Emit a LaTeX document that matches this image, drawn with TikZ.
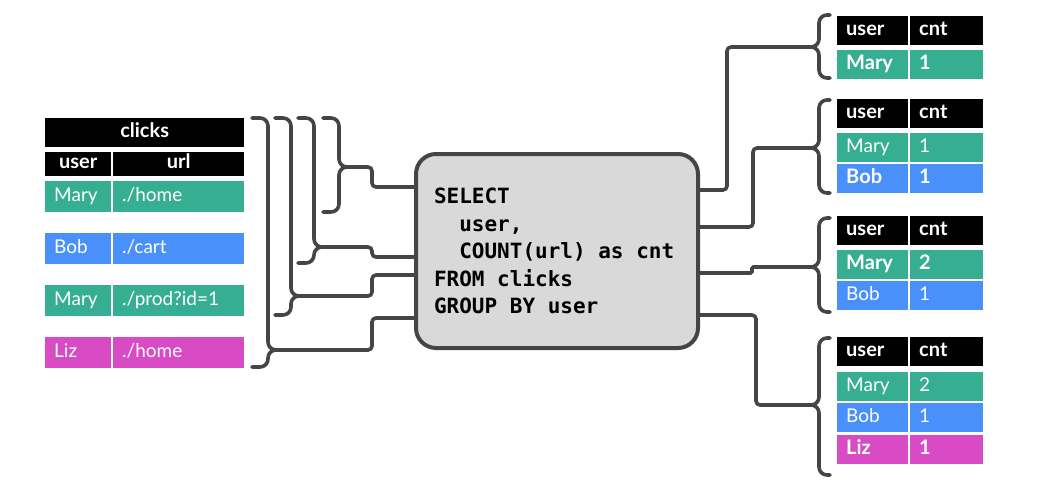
\documentclass[tikz,border=0pt]{standalone}
\usepackage{fontspec}
\setmainfont{Lato}
\setmonofont{DejaVu Sans Mono}
\usetikzlibrary{calc}

\definecolor{grn}{HTML}{36AE91}
\definecolor{blu}{HTML}{4A90FA}
\definecolor{mag}{HTML}{D84BC4}
\definecolor{wirec}{HTML}{454545}
\definecolor{boxg}{HTML}{D9D9D9}

% one fixed-width blank in the query text
\newcommand\msp{\phantom{x}}

% brace opening to the left table: x of ends, top, bottom, tip, tip name
\newcommand\bracel[5]{%
  \coordinate (#5) at (#1+24,#4);
  \draw[brc] (#1,#2) -- (#1+16,#2) -- (#1+16,#4) -- (#5);
  \draw[brc] (#5) -- (#1+16,#4) -- (#1+16,#3) -- (#1,#3);
}
% brace opening to a result table
\newcommand\bracer[5]{%
  \coordinate (#5) at (#1-18,#4);
  \draw[brc] (#1,#2) -- (#1-11,#2) -- (#1-11,#4) -- (#5);
  \draw[brc] (#5) -- (#1-11,#4) -- (#1-11,#3) -- (#1,#3);
}

\begin{document}
\begin{tikzpicture}[x=1pt,y=-1pt]
  \tikzset{ cell/.style={anchor=north west,text width=#1,inner xsep=9pt,inner ysep=0pt,
      minimum height=29pt,text height=13.5pt,text depth=4pt,text=white,align=left,
      font=\fontsize{19}{21}\selectfont},
    hcell/.style={cell=#1,fill=black,font=\fontsize{20}{22}\selectfont\bfseries},
    bcell/.style={font=\fontsize{20}{22}\selectfont\bfseries},
    wire/.style={draw=wirec,line width=3.6pt,rounded corners=4pt},
    brc/.style={draw=wirec,line width=3.6pt,rounded corners=8pt,line cap=round},
    query/.style={draw=wirec,line width=4pt,fill=boxg,rounded corners=20pt,
      minimum width=282pt,minimum height=194pt,text width=246pt,inner xsep=18pt,
      align=left,font=\ttfamily\bfseries\fontsize{21}{27.5}\selectfont},
  }
  \useasboundingbox (0,0) rectangle (1048,485);

  % the clicks table
  \node[hcell=181pt,align=center] (clk) at (45,118) {clicks};
  \node[hcell=48pt,align=center,minimum height=24pt] (cu) at (45,152) {user};
  \node[hcell=113pt,align=center,minimum height=24pt] (cl) at (113,152) {url};
  \node[cell=48pt,fill=grn,minimum height=31pt] (r1u) at (45,181) {Mary};
  \node[cell=113pt,fill=grn,minimum height=31pt] (r1l) at (113,181) {./home};
  \node[cell=48pt,fill=blu,minimum height=31pt] (r2u) at (45,233) {Bob};
  \node[cell=113pt,fill=blu,minimum height=31pt] (r2l) at (113,233) {./cart};
  \node[cell=48pt,fill=grn,minimum height=31pt] (r3u) at (45,285) {Mary};
  \node[cell=113pt,fill=grn,minimum height=31pt] (r3l) at (113,285) {./prod?id=1};
  \node[cell=48pt,fill=mag,minimum height=31pt] (r4u) at (45,337) {Liz};
  \node[cell=113pt,fill=mag,minimum height=31pt] (r4l) at (113,337) {./home};

  % the query
  \node[query] (q) at (557,251) {SELECT\\
    \msp\msp user,\\
    \msp\msp COUNT(url)\msp as\msp cnt\\
    FROM\msp clicks\\
    GROUP\msp BY\msp user};

  % result tables
  \node[hcell=53pt] (a-u) at (837,16) {user};
  \node[hcell=55pt] (a-c) at (910,16) {cnt};
  \node[cell=53pt,fill=grn,bcell] (a1u) at (837,50) {Mary};
  \node[cell=55pt,fill=grn,bcell] (a1c) at (910,50) {1};

  \node[hcell=53pt] (b-u) at (837,99) {user};
  \node[hcell=55pt] (b-c) at (910,99) {cnt};
  \node[cell=53pt,fill=grn] (b1u) at (837,133) {Mary};
  \node[cell=55pt,fill=grn] (b1c) at (910,133) {1};
  \node[cell=53pt,fill=blu,bcell] (b2u) at (837,164) {Bob};
  \node[cell=55pt,fill=blu,bcell] (b2c) at (910,164) {1};

  \node[hcell=53pt] (c-u) at (837,216) {user};
  \node[hcell=55pt] (c-c) at (910,216) {cnt};
  \node[cell=53pt,fill=grn,bcell] (c1u) at (837,250) {Mary};
  \node[cell=55pt,fill=grn,bcell] (c1c) at (910,250) {2};
  \node[cell=53pt,fill=blu] (c2u) at (837,281) {Bob};
  \node[cell=55pt,fill=blu] (c2c) at (910,281) {1};

  \node[hcell=53pt] (d-u) at (837,337) {user};
  \node[hcell=55pt] (d-c) at (910,337) {cnt};
  \node[cell=53pt,fill=grn] (d1u) at (837,372) {Mary};
  \node[cell=55pt,fill=grn] (d1c) at (910,372) {2};
  \node[cell=53pt,fill=blu] (d2u) at (837,403) {Bob};
  \node[cell=55pt,fill=blu] (d2c) at (910,403) {1};
  \node[cell=53pt,fill=mag,bcell] (d3u) at (837,435) {Liz};
  \node[cell=55pt,fill=mag,bcell] (d3c) at (910,435) {1};

  % braces round the input rows
  \bracel{252}{118}{367}{350}{t1}
  \bracel{275}{118}{315}{296}{t2}
  \bracel{298}{118}{263}{247}{t3}
  \bracel{323}{118}{212}{167}{t4}

  % braces round the results
  \bracer{830}{15}{78}{47}{s1}
  \bracer{830}{100}{193}{148}{s2}
  \bracer{830}{218}{312}{267}{s3}
  \bracer{830}{338}{475}{405}{s4}

  % wires into the query
  \draw[wire] (t1) -| (372,318) -- (q.west |- 0,318);
  \draw[wire] (t2) -| (372,275) -- (q.west |- 0,275);
  \draw[wire] (t3) -| (372,257) -- (q.west |- 0,257);
  \draw[wire] (t4) -| (372,187) -- (q.west |- 0,187);

  % wires out of the query
  \draw[wire] (q.east |- 0,190) -| (727,47) -- (s1);
  \draw[wire] (q.east |- 0,227) -| (753,148) -- (s2);
  \draw[wire,rounded corners=1.5pt] (q.east |- 0,273) -| (752,267) -- (s3);
  \draw[wire] (q.east |- 0,315) -| (756,405) -- (s4);
\end{tikzpicture}
\end{document}
